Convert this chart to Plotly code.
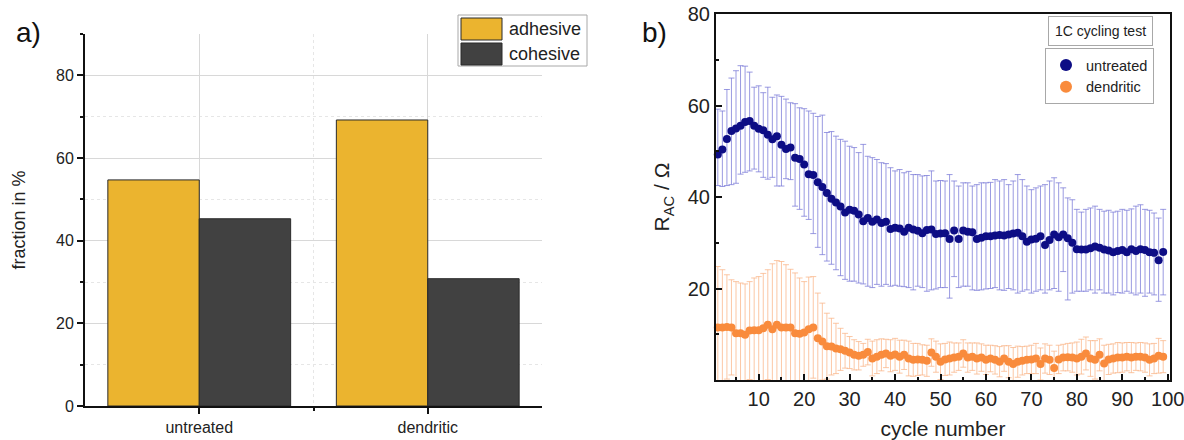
import plotly.graph_objects as go

# ---------------- data: panel a ----------------
categories = ["untreated", "dendritic"]
adhesive = [54.7, 69.2]
cohesive = [45.3, 30.8]

# ---------------- data: panel b ----------------
cycles = list(range(1, 100))
untreated_mean = [49.3, 50.4, 52.7, 54.4, 55.0, 55.6, 56.4, 56.6, 55.6, 54.9,
                  54.6, 53.6, 52.6, 53.3, 51.4, 50.5, 50.8, 48.6, 48.3, 47.1,
                  45.0, 44.8, 43.2, 42.2, 40.9, 39.6, 38.8, 37.9, 36.6, 37.2,
                  37.0, 36.2, 34.7, 35.4, 34.6, 35.1, 34.3, 34.6, 33.0, 33.3,
                  33.1, 32.4, 33.3, 32.9, 32.6, 32.1, 32.8, 32.9, 31.9, 32.0,
                  32.1, 30.8, 32.7, 30.8, 32.7, 32.4, 32.3, 30.8, 31.1, 31.4,
                  31.4, 31.6, 31.7, 31.6, 31.8, 32.0, 32.2, 31.4, 30.2, 30.7,
                  30.9, 31.4, 29.5, 30.6, 31.8, 31.2, 31.8, 31.0, 30.0, 28.6,
                  28.5, 28.5, 28.8, 29.2, 28.9, 28.5, 28.3, 27.9, 28.2, 28.4,
                  27.9, 28.6, 28.2, 28.6, 28.4, 27.9, 27.8, 26.2, 28.0]
untreated_upper = [59.2, 58.8, 63.5, 66.0, 67.6, 68.7, 68.6, 67.3, 64.0, 64.3,
                   62.8, 64.0, 61.8, 62.3, 62.0, 61.4, 60.6, 60.4, 59.5, 59.3,
                   58.8, 58.3, 57.6, 57.9, 54.1, 54.3, 53.3, 52.6, 52.2, 51.1,
                   50.8, 49.7, 51.5, 48.9, 48.6, 48.2, 47.5, 47.3, 46.4, 45.7,
                   46.0, 45.3, 45.6, 44.9, 44.9, 44.6, 44.7, 45.7, 43.5, 43.6,
                   43.5, 44.9, 43.5, 42.4, 43.1, 43.1, 42.4, 42.7, 43.1, 43.1,
                   43.2, 43.8, 43.5, 43.8, 42.7, 43.5, 44.9, 43.8, 42.4, 41.6,
                   42.0, 42.4, 42.7, 43.5, 44.2, 43.1, 42.0, 39.8, 39.4, 37.3,
                   36.7, 37.3, 37.6, 38.0, 37.3, 36.9, 37.1, 36.7, 36.9, 37.3,
                   37.1, 37.4, 38.0, 38.3, 37.3, 37.1, 36.5, 35.4, 37.3]
untreated_lower = [42.5, 42.3, 42.5, 42.7, 43.0, 45.0, 45.4, 45.7, 46.1, 45.5,
                   44.3, 43.9, 44.3, 42.4, 42.4, 44.0, 43.8, 38.0, 37.3, 35.8,
                   35.1, 32.0, 29.0, 27.4, 26.0, 25.3, 24.1, 22.8, 22.0, 21.6,
                   21.6, 21.2, 21.0, 20.5, 20.2, 20.9, 20.5, 20.9, 20.5, 20.7,
                   20.5, 20.4, 20.2, 19.7, 20.5, 20.2, 19.4, 19.7, 19.9, 20.2,
                   20.2, 17.9, 22.6, 20.2, 20.5, 20.5, 19.7, 19.6, 19.7, 19.9,
                   20.0, 20.2, 19.7, 19.6, 20.0, 19.7, 19.0, 19.4, 19.7, 19.0,
                   19.4, 19.7, 19.0, 19.7, 20.0, 19.4, 23.7, 17.5, 19.0, 19.4,
                   19.4, 19.4, 19.7, 19.0, 19.7, 19.0, 19.0, 18.6, 19.1, 19.0,
                   19.4, 19.0, 18.6, 19.0, 18.3, 19.0, 18.6, 17.2, 18.6]
dendritic_mean = [11.5, 11.5, 11.6, 11.5, 10.2, 10.2, 9.9, 10.8, 10.9, 10.9,
                  11.3, 12.1, 11.1, 12.1, 11.5, 11.5, 11.5, 10.2, 10.1, 10.4,
                  11.1, 11.5, 9.1, 8.4, 7.4, 7.3, 6.9, 6.7, 6.4, 6.0,
                  5.5, 5.3, 5.5, 6.1, 4.7, 5.1, 5.5, 5.8, 5.3, 5.6,
                  5.1, 5.5, 4.7, 4.4, 4.5, 4.4, 4.2, 6.0, 5.1, 4.0,
                  4.5, 4.7, 4.9, 5.1, 5.8, 4.9, 5.1, 4.7, 4.9, 4.4,
                  4.7, 4.4, 4.0, 4.7, 4.0, 3.5, 4.0, 4.2, 4.4, 4.5,
                  4.7, 3.5, 4.7, 4.4, 2.6, 4.5, 4.9, 5.0, 4.9, 4.7,
                  5.1, 5.8, 4.7, 4.4, 5.5, 3.6, 4.5, 4.7, 4.9, 4.9,
                  5.1, 4.9, 5.1, 5.1, 4.9, 4.4, 4.7, 5.3, 5.1]
dendritic_err = [13.3, 12.6, 11.4, 10.4, 11.3, 11.0, 11.1, 10.7, 11.4, 11.7,
                 12.0, 12.0, 14.3, 14.0, 14.4, 13.7, 12.7, 13.2, 12.2, 11.1,
                 11.4, 11.1, 9.9, 8.4, 7.2, 6.2, 5.5, 4.6, 3.8, 3.5,
                 3.3, 3.1, 2.5, 2.8, 3.8, 3.7, 3.5, 3.1, 3.5, 3.5,
                 3.6, 3.2, 3.8, 3.6, 3.5, 3.3, 3.4, 3.0, 3.4, 3.9,
                 3.5, 3.6, 3.2, 3.0, 3.0, 3.2, 3.0, 3.4, 3.0, 3.2,
                 2.9, 3.1, 3.3, 2.8, 3.5, 3.6, 3.4, 3.1, 3.0, 3.1,
                 3.3, 3.5, 3.2, 3.2, 3.7, 3.1, 2.9, 3.0, 3.2, 3.6,
                 3.8, 3.6, 3.9, 4.2, 3.5, 4.0, 3.3, 3.2, 3.3, 3.2,
                 3.1, 3.3, 3.0, 3.1, 3.2, 3.5, 3.3, 3.8, 3.5]

up_plus = [u - m for u, m in zip(untreated_upper, untreated_mean)]
up_minus = [m - l for m, l in zip(untreated_mean, untreated_lower)]

W, H = 1184, 440
FONT = "Liberation Sans, Arial, sans-serif"
C_ADH = "#ebb42f"
C_COH = "#414141"
C_UNT = "#0d0d85"
C_DEN = "#f98b3c"

def px(x):
    return x / W

def py(y):
    return 1 - y / H

fig = go.Figure()

pos = list(range(len(categories)))
fig.add_trace(go.Bar(x=pos, y=adhesive, name="adhesive", marker=dict(color=C_ADH, line=dict(color="#2a2a2a", width=1)),
                     offsetgroup="a", showlegend=False, xaxis="x", yaxis="y"))
fig.add_trace(go.Bar(x=pos, y=cohesive, name="cohesive", marker=dict(color=C_COH, line=dict(color="#2a2a2a", width=1)),
                     offsetgroup="c", showlegend=False, xaxis="x", yaxis="y"))

fig.add_trace(go.Scatter(x=cycles, y=untreated_mean, mode="markers", name="untreated",
                         marker=dict(color=C_UNT, size=8),
                         error_y=dict(type="data", symmetric=False, array=up_plus, arrayminus=up_minus,
                                      color="rgba(120,120,215,0.75)", thickness=1, width=3),
                         cliponaxis=False, xaxis="x2", yaxis="y2"))
fig.add_trace(go.Scatter(x=cycles, y=dendritic_mean, mode="markers", name="dendritic",
                         marker=dict(color=C_DEN, size=8),
                         error_y=dict(type="data", array=dendritic_err,
                                      color="rgba(250,180,135,0.75)", thickness=1, width=3),
                         cliponaxis=False, xaxis="x2", yaxis="y2"))

tick_font = dict(family=FONT, size=16, color="#222")
tick_font_b = dict(family=FONT, size=20, color="#222")

fig.update_layout(
    width=W, height=H, margin=dict(l=0, r=0, t=0, b=0),
    paper_bgcolor="white", plot_bgcolor="white",
    barmode="group", bargap=0.2, bargroupgap=0,
    font=dict(family=FONT, color="#222"),
    xaxis=dict(domain=[px(85), px(542)], anchor="y", type="linear", range=[-0.5, 1.5],
               tickvals=pos, ticktext=categories, tickfont=dict(family=FONT, size=16, color="#222"),
               showgrid=True, gridcolor="#d8d8d8", gridwidth=1, zeroline=False,
               showline=True, linecolor="#111", linewidth=2, ticks="outside", ticklen=6, tickwidth=1.5,
               tickcolor="#111", automargin=False,
               minor=dict(tickvals=[0.5], ticks="outside", ticklen=3, showgrid=True, gridcolor="#e6e6e6",
                          griddash="dot", tickcolor="#111")),
    yaxis=dict(domain=[py(406), py(34)], anchor="x", range=[0, 90], tickvals=[0, 20, 40, 60, 80],
               tickfont=tick_font, showgrid=True, gridcolor="#d8d8d8", zeroline=False,
               showline=True, linecolor="#111", linewidth=2, ticks="outside", ticklen=6, tickwidth=1.5,
               tickcolor="#111", automargin=False,
               title=dict(text="fraction in %", font=dict(family=FONT, size=18, color="#222"), standoff=26),
               minor=dict(tickvals=[10, 30, 50, 70, 90], ticks="outside", ticklen=3, showgrid=True,
                          gridcolor="#e6e6e6", griddash="dot", tickcolor="#111")),
    xaxis2=dict(domain=[px(716), px(1170)], anchor="y2", range=[0.6, 100.5], tick0=0, dtick=10,
                tickfont=tick_font_b, showgrid=False, zeroline=False, ticklabeloverflow="allow",
                showline=True, mirror=True, linecolor="#111", linewidth=2, ticks="inside", ticklen=6,
                tickwidth=1.5, tickcolor="#111", automargin=False,
                title=dict(text="cycle number", font=dict(family=FONT, size=21, color="#222"), standoff=14),
                minor=dict(tick0=0, dtick=5, ticks="inside", ticklen=3, tickcolor="#111")),
    yaxis2=dict(domain=[py(380), py(14)], anchor="x2", range=[0, 80], tickvals=[20, 40, 60, 80],
                tickfont=tick_font_b, showgrid=False, zeroline=False,
                showline=True, mirror=True, linecolor="#111", linewidth=2, ticks="inside", ticklen=6,
                tickwidth=1.5, tickcolor="#111", automargin=False,
                title=dict(text="R<sub>AC</sub> / Ω", font=dict(family=FONT, size=21, color="#222"), standoff=12),
                minor=dict(tickvals=[10, 30, 50, 70], ticks="inside", ticklen=3, tickcolor="#111")),
    legend=dict(x=px(1045), y=py(48), xanchor="left", yanchor="top",
                bgcolor="white", bordercolor="#a8a8a8", borderwidth=1,
                font=dict(family=FONT, size=14.5, color="#222"), itemsizing="constant",
                tracegroupgap=0),
)

# panel labels
fig.add_annotation(text="a)", x=px(14), y=py(32), xref="paper", yref="paper", xanchor="left", yanchor="middle",
                   showarrow=False, font=dict(family=FONT, size=28, color="#111"))
fig.add_annotation(text="b)", x=px(640), y=py(32), xref="paper", yref="paper", xanchor="left", yanchor="middle",
                   showarrow=False, font=dict(family=FONT, size=28, color="#111"))

# panel b header box
fig.add_annotation(text="1C cycling test", x=px(1100), y=py(31), xref="paper", yref="paper",
                   xanchor="center", yanchor="middle", showarrow=False,
                   font=dict(family=FONT, size=14, color="#222"),
                   bordercolor="#a8a8a8", borderwidth=1, borderpad=6, bgcolor="white")

# panel a legend (large colour patches)
series_names = ["adhesive", "cohesive"]
series_colors = [C_ADH, C_COH]
fig.add_shape(type="rect", xref="paper", yref="paper", x0=px(458), x1=px(587), y0=py(66), y1=py(15),
              line=dict(color="#a8a8a8", width=1), fillcolor="white", layer="above")
for i, (nm, col) in enumerate(zip(series_names, series_colors)):
    top = 18 + i * 25
    fig.add_shape(type="rect", xref="paper", yref="paper", x0=px(461), x1=px(502), y0=py(top + 22), y1=py(top),
                  line=dict(color="#2a2a2a", width=1), fillcolor=col, layer="above")
    fig.add_annotation(text=nm, x=px(507), y=py(top + 11), xref="paper", yref="paper", xanchor="left",
                       yanchor="middle", showarrow=False, font=dict(family=FONT, size=18, color="#222"))

fig.write_html("out.html", config={"displayModeBar": False},
               post_script="document.body.style.margin='0';document.body.style.overflow='hidden';")
